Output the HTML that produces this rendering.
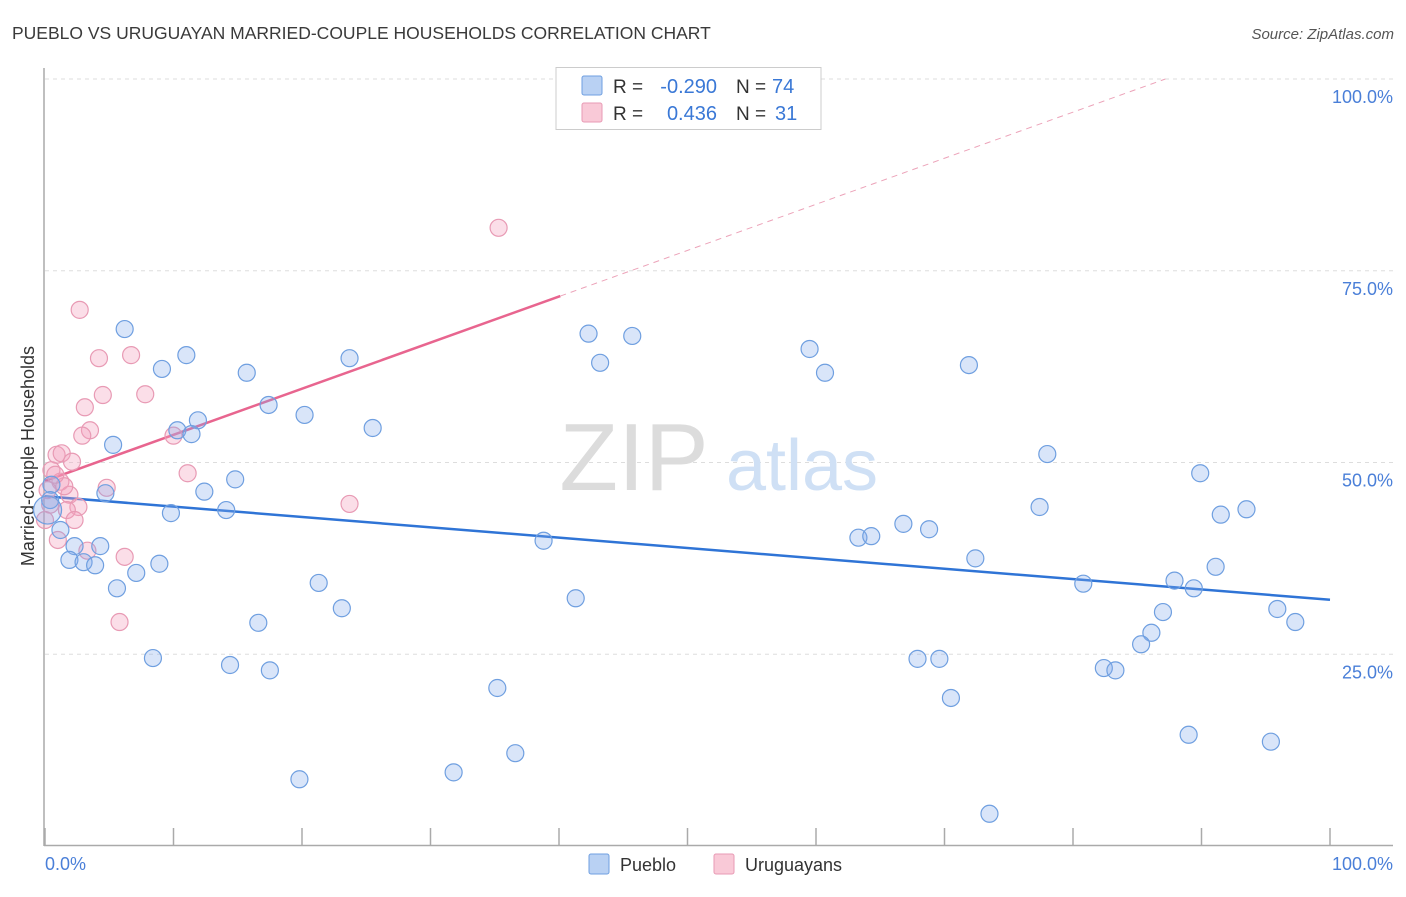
<!DOCTYPE html>
<html><head><meta charset="utf-8"><style>
body{margin:0;background:#fff;font-family:"Liberation Sans",sans-serif;}
svg text{font-family:"Liberation Sans",sans-serif;}
</style></head><body>
<svg id="chart" width="1406" height="892" xmlns="http://www.w3.org/2000/svg">
<text x="12" y="39" font-size="17.5" fill="#3a3a3a">PUEBLO VS URUGUAYAN MARRIED-COUPLE HOUSEHOLDS CORRELATION CHART</text>
<text x="1394" y="39" font-size="15" fill="#555" font-style="italic" text-anchor="end">Source: ZipAtlas.com</text>
<g id="grid"></g>
<g>
<text x="634" y="490" font-size="96" fill="#dcdcdc" font-family="Liberation Serif,serif" text-anchor="middle">ZIP</text>
<text x="802" y="490" font-size="72" fill="#cfe0f5" text-anchor="middle">atlas</text>
</g>
<line x1="44" y1="68" x2="44" y2="846" stroke="#aaa" stroke-width="1.5"/>
<line x1="44" y1="845.5" x2="1393" y2="845.5" stroke="#aaa" stroke-width="1.5"/>
<g id="ticks"></g>
<text x="34" y="456" font-size="18" fill="#333" text-anchor="middle" transform="rotate(-90 34 456)">Married-couple Households</text>
<text x="45" y="870" font-size="18" fill="#4a7fd8">0.0%</text>
<text x="1393" y="870" font-size="18" fill="#4a7fd8" text-anchor="end">100.0%</text>
<g id="trend"></g>
<g id="pts"></g>
<g>
<rect x="556" y="67.5" width="265" height="62" fill="#fff" stroke="#ccc"/>
<rect x="582" y="76" width="20" height="19" fill="#b9d1f3" stroke="#6f9fe0" rx="2"/>
<rect x="582" y="103" width="20" height="19" fill="#f9c9d7" stroke="#e89ab4" rx="2"/>
<text x="613" y="93" font-size="19" fill="#333">R =</text>
<text x="717" y="93" font-size="20" fill="#3a78d6" text-anchor="end">-0.290</text>
<text x="736" y="93" font-size="19" fill="#333">N =</text>
<text x="772" y="93" font-size="20" fill="#3a78d6">74</text>
<text x="613" y="120" font-size="19" fill="#333">R =</text>
<text x="717" y="120" font-size="20" fill="#3a78d6" text-anchor="end">0.436</text>
<text x="736" y="120" font-size="19" fill="#333">N =</text>
<text x="775" y="120" font-size="20" fill="#3a78d6">31</text>
</g>
<g>
<rect x="589" y="854" width="20" height="20" fill="#b9d1f3" stroke="#6f9fe0" rx="2"/>
<text x="620" y="871" font-size="18" fill="#333">Pueblo</text>
<rect x="714" y="854" width="20" height="20" fill="#f9c9d7" stroke="#e89ab4" rx="2"/>
<text x="745" y="871" font-size="18" fill="#333">Uruguayans</text>
</g>
</svg>
<script>
const yTicks=[25,50,75,100];
const yTickLabels=["25.0%","50.0%","75.0%","100.0%"];
const xTickVals=[0,10,20,30,40,50,60,70,80,90,100];
const puebloX=[6.2,9.1,11.0,15.7,23.7,42.3,45.7,43.2,59.5,60.7,71.9,17.4,20.2,11.9,10.3,11.4,25.5,5.3,78.0,89.9,14.8,12.4,4.7,0.5,0.4,9.8,14.1,77.4,91.5,93.5,1.2,2.3,4.3,38.8,63.3,64.3,66.8,68.8,72.4,1.9,3.0,3.9,7.1,8.9,5.6,21.3,41.3,80.8,87.9,89.4,91.1,23.1,16.6,87.0,95.9,97.3,86.1,85.3,8.4,14.4,17.5,67.9,69.6,82.4,83.3,35.2,70.5,89.0,95.4,36.6,19.8,31.8,73.5,0.2];
const puebloY=[67.4,62.2,64.0,61.7,63.6,66.8,66.5,63.0,64.8,61.7,62.7,57.5,56.2,55.5,54.2,53.7,54.5,52.3,51.1,48.6,47.8,46.2,46.0,47.1,45.1,43.4,43.8,44.2,43.2,43.9,41.2,39.1,39.1,39.8,40.2,40.4,42.0,41.3,37.5,37.3,37.0,36.6,35.6,36.8,33.6,34.3,32.3,34.2,34.6,33.6,36.4,31.0,29.1,30.5,30.9,29.2,27.8,26.3,24.5,23.6,22.9,24.4,24.4,23.2,22.9,20.6,19.3,14.5,13.6,12.1,8.7,9.6,4.2,43.8];
const uruX=[2.7,35.3,4.2,6.7,4.5,7.8,3.1,3.5,2.9,10.0,0.9,1.3,2.1,11.1,0.5,1.2,4.8,1.9,23.7,2.6,1.7,2.3,1.0,3.3,6.2,5.8,0.2,0.4,0.0,1.5,0.8];
const uruY=[69.9,80.6,63.6,64.0,58.8,58.9,57.2,54.2,53.5,53.5,51.0,51.2,50.1,48.6,49.0,47.5,46.7,45.8,44.6,44.2,43.8,42.5,39.9,38.5,37.7,29.2,46.4,44.5,42.5,46.9,48.4];
const puebloTrend=[45.6,32.1]; // y at x=0, x=100
const uruTrend=[47.6,0.601]; // intercept, slope
const uruSolidEnd=40.1;
const X=v=>45+v*12.85, Y=v=>846-v*7.67;
const NS="http://www.w3.org/2000/svg";
function mk(t,a,p){const e=document.createElementNS(NS,t);for(const k in a)e.setAttribute(k,a[k]);p.appendChild(e);return e;}
const grid=document.getElementById('grid');
yTicks.forEach((t,i)=>{
 const l=mk('line',{x1:45,x2:1393,y1:Y(t),y2:Y(t),stroke:'#ddd','stroke-dasharray':'4 4'},grid);
 
 
 const tx=mk('text',{x:1393,y:Y(t)+24,'font-size':18,fill:'#4a7fd8','text-anchor':'end'},grid);
 tx.textContent=yTickLabels[i];
 
 
});
const ticks=document.getElementById('ticks');
xTickVals.forEach(v=>{
 const l=mk('line',{x1:X(v),x2:X(v),y1:828,y2:846,stroke:'#aaa','stroke-width':1.5},ticks);
 
 
});
const tr=document.getElementById('trend');
let l1=mk('line',{x1:X(0),y1:Y(puebloTrend[0]),x2:X(100),y2:Y(puebloTrend[1]),stroke:'#2f74d6','stroke-width':2.5},tr);


let l2=mk('line',{x1:X(0),y1:Y(uruTrend[0]),x2:X(uruSolidEnd),y2:Y(uruTrend[0]+uruTrend[1]*uruSolidEnd),stroke:'#e8658f','stroke-width':2.5},tr);


const xEnd=(100-uruTrend[0])/uruTrend[1];
let l3=mk('line',{x1:X(uruSolidEnd),y1:Y(uruTrend[0]+uruTrend[1]*uruSolidEnd),x2:X(xEnd),y2:Y(100),stroke:'#eca3b9','stroke-width':1,'stroke-dasharray':'6 5'},tr);


const pts=document.getElementById('pts');
uruX.forEach((v,i)=>{
 const c=mk('circle',{cx:X(v),cy:Y(uruY[i]),r:8.5,fill:'rgba(244,160,188,0.35)',stroke:'#e89ab4','stroke-width':1.2},pts);
 
 
});
puebloX.forEach((v,i)=>{
 const big=i===puebloX.length-1;
 const c=mk('circle',{cx:X(v),cy:Y(puebloY[i]),r:big?14:8.5,fill:'rgba(130,170,235,0.3)',stroke:'#6f9fe0','stroke-width':1.2},pts);
 
 
});
</script>
</body></html>
